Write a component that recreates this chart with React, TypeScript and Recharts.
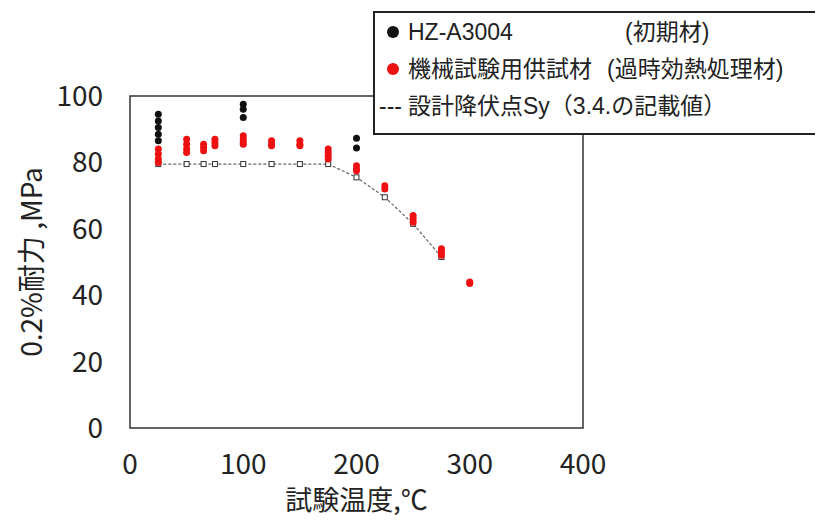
import { ScatterChart, Scatter, XAxis, YAxis, ReferenceArea, Label } from 'recharts'

// 0.2% proof stress vs test temperature
const HZ_A3004 = [
  { temp: 25, stress: 94.5 },
  { temp: 25, stress: 92.5 },
  { temp: 25, stress: 90.5 },
  { temp: 25, stress: 88.5 },
  { temp: 25, stress: 86.5 },
  { temp: 100, stress: 97.5 },
  { temp: 100, stress: 96 },
  { temp: 100, stress: 93.5 },
  { temp: 200, stress: 87.3 },
  { temp: 200, stress: 84.3 },
]

const TEST_MATERIAL = [
  { temp: 25, stress: 84 },
  { temp: 25, stress: 82.5 },
  { temp: 25, stress: 81 },
  { temp: 25, stress: 80 },
  { temp: 50, stress: 87 },
  { temp: 50, stress: 85.5 },
  { temp: 50, stress: 84 },
  { temp: 50, stress: 83 },
  { temp: 65, stress: 85.5 },
  { temp: 65, stress: 84.5 },
  { temp: 65, stress: 83.5 },
  { temp: 75, stress: 87 },
  { temp: 75, stress: 86 },
  { temp: 75, stress: 85 },
  { temp: 100, stress: 88 },
  { temp: 100, stress: 87 },
  { temp: 100, stress: 86 },
  { temp: 100, stress: 85.5 },
  { temp: 125, stress: 86.5 },
  { temp: 125, stress: 85.5 },
  { temp: 125, stress: 85 },
  { temp: 150, stress: 86.5 },
  { temp: 150, stress: 85.5 },
  { temp: 150, stress: 85 },
  { temp: 175, stress: 84 },
  { temp: 175, stress: 83 },
  { temp: 175, stress: 82 },
  { temp: 175, stress: 81 },
  { temp: 200, stress: 79 },
  { temp: 200, stress: 78 },
  { temp: 200, stress: 77.5 },
  { temp: 225, stress: 73 },
  { temp: 225, stress: 72 },
  { temp: 250, stress: 64 },
  { temp: 250, stress: 63 },
  { temp: 250, stress: 62 },
  { temp: 275, stress: 54 },
  { temp: 275, stress: 53 },
  { temp: 275, stress: 52 },
  { temp: 300, stress: 44 },
  { temp: 300, stress: 43.5 },
]

const SY_TEMPS = [25, 50, 65, 75, 100, 125, 150, 175, 200, 225, 250, 275]
const SY_VALUES = [79.5, 79.5, 79.5, 79.5, 79.5, 79.5, 79.5, 79.5, 75.5, 69.5, 61.5, 51.5]
const DESIGN_SY = SY_TEMPS.map((temp, i) => ({ temp, stress: SY_VALUES[i] }))

const X_TICKS = [0, 100, 200, 300, 400]
const Y_TICKS = [0, 20, 40, 60, 80, 100]

const FONT = '"Noto Sans CJK JP", "Noto Sans", sans-serif'
const LEGEND_FONT = '"Liberation Sans", "Noto Sans CJK JP", sans-serif'
const RED = '#ee1111'

const Dot = (color: string) => (props: any) => (
  <circle cx={props.cx} cy={props.cy} r={3.5} fill={color} />
)

const Square = (props: any) => (
  <rect x={props.cx - 2.5} y={props.cy - 2.5} width={5} height={5} fill="#fff" stroke="#333" strokeWidth={1} />
)

const legendText = {
  position: 'absolute' as const,
  fontSize: 23,
  fontFamily: LEGEND_FONT,
  color: '#222',
  whiteSpace: 'nowrap' as const,
  lineHeight: '26px',
}

export default function App() {
  return (
    <div style={{ position: 'relative', width: 815, height: 512, fontFamily: FONT }}>
      <ScatterChart width={815} height={512} margin={{ top: 88, right: 240, bottom: 2, left: 2 }}>
        <XAxis
          type="number"
          dataKey="temp"
          domain={[0, 400]}
          ticks={X_TICKS}
          axisLine={false}
          tickLine={false}
          tickSize={0}
          tickMargin={26}
          height={90}
          tick={{ fontSize: 28, fill: '#222' }}
        >
          <Label value="試験温度,℃" position="insideBottom" offset={8} style={{ fontSize: 27, fill: '#222' }} />
        </XAxis>
        <YAxis
          type="number"
          dataKey="stress"
          domain={[0, 100]}
          ticks={Y_TICKS}
          axisLine={false}
          tickLine={false}
          tickSize={0}
          tickMargin={27}
          width={120}
          tick={{ fontSize: 28, fill: '#222' }}
        >
          <Label
            value="0.2%耐力 ,MPa"
            angle={-90}
            position="insideLeft"
            offset={22}
            style={{ fontSize: 28, fill: '#222', textAnchor: 'middle' }}
          />
        </YAxis>
        <ReferenceArea x1={0} x2={400} y1={0} y2={100} fill="none" stroke="#333" strokeWidth={1.5} />
        <Scatter
          name="設計降伏点Sy"
          data={DESIGN_SY}
          line={{ stroke: '#666', strokeWidth: 1.2, strokeDasharray: '3 2' }}
          lineType="joint"
          shape={Square}
          isAnimationActive={false}
        />
        <Scatter name="HZ-A3004" data={HZ_A3004} shape={Dot('#111')} isAnimationActive={false} />
        <Scatter name="機械試験用供試材" data={TEST_MATERIAL} shape={Dot(RED)} isAnimationActive={false} />
      </ScatterChart>

      <div
        style={{
          position: 'absolute',
          left: 365,
          top: 3,
          width: 443,
          height: 120,
          border: '2px solid #222',
          background: '#fff',
        }}
      >
        <span style={{ position: 'absolute', left: 12, top: 13, width: 12, height: 12, borderRadius: 6, background: '#111' }} />
        <span style={{ ...legendText, left: 33, top: 6 }}>HZ-A3004</span>
        <span style={{ ...legendText, left: 250, top: 6 }}>(初期材)</span>

        <span style={{ position: 'absolute', left: 12, top: 50, width: 12, height: 12, borderRadius: 6, background: RED }} />
        <span style={{ ...legendText, left: 33, top: 43 }}>機械試験用供試材</span>
        <span style={{ ...legendText, left: 232, top: 43 }}>(過時効熱処理材)</span>

        <span style={{ ...legendText, left: 4, top: 80 }}>---</span>
        <span style={{ ...legendText, left: 33, top: 80 }}>設計降伏点Sy（3.4.の記載値）</span>
      </div>
    </div>
  )
}
